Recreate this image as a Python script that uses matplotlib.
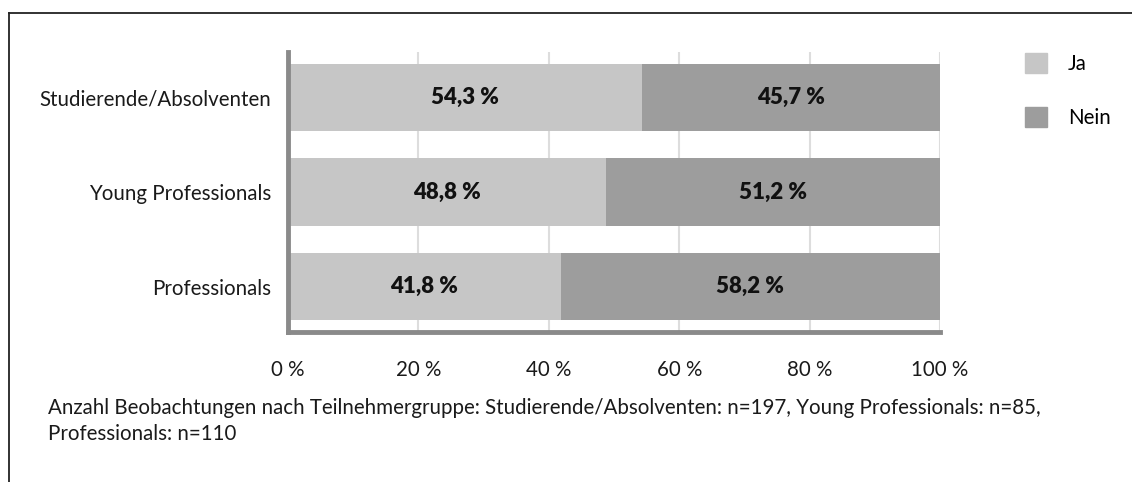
import numpy as np
import matplotlib.pyplot as plt
from matplotlib.lines import Line2D
from matplotlib.patches import Patch

groups = ['Studierende/Absolventen', 'Young Professionals', 'Professionals']
ja = [54.3, 48.8, 41.8]
nein = [45.7, 51.2, 58.2]
ticks = [0, 20, 40, 60, 80, 100]
note = ('Anzahl Beobachtungen nach Teilnehmergruppe: Studierende/Absolventen: n=197, '
        'Young Professionals: n=85,\nProfessionals: n=110')

plt.rcParams['font.family'] = ['Lato', 'DejaVu Sans']
fs = 14.8

fig = plt.figure(figsize=(11.32, 4.82), dpi=100)
ax = fig.add_axes([288/1132, 1-332/482, (940-288)/1132, 280/482])

y = np.arange(len(groups))[::-1]
ax.barh(y, ja, height=0.71, color='#c6c6c6', label='Ja', zorder=2)
ax.barh(y, nein, left=ja, height=0.71, color='#9d9d9d', label='Nein', zorder=2)

# Prozentwerte in die Balken
for yi, a, b in zip(y, ja, nein):
    ax.text(a/2, yi, ('%.1f %%' % a).replace('.', ','), ha='center', va='center',
            fontsize=16, fontweight='heavy', color='#111111', zorder=3)
    ax.text(a + b/2, yi, ('%.1f %%' % b).replace('.', ','), ha='center', va='center',
            fontsize=16, fontweight='heavy', color='#111111', zorder=3)

ax.set_xlim(0, 100)
ax.set_ylim(-0.48, 2.48)
ax.set_xticks(ticks)
ax.set_xticklabels(['%d %%' % t for t in ticks], fontsize=fs, color='#1a1a1a')
ax.set_yticks(y)
ax.set_yticklabels(groups, fontsize=fs, color='#1a1a1a')
ax.tick_params(length=0, pad=12)
ax.tick_params(axis='x', pad=20)
ax.grid(axis='x', color='#dddddd', lw=1.5, zorder=1)
for s in ['top', 'right']:
    ax.spines[s].set_visible(False)
for s in ['left', 'bottom']:
    ax.spines[s].set_color('#8a8a8a')
    ax.spines[s].set_linewidth(3.5)

ax.legend(handles=[Patch(color='#c6c6c6', label='Ja'), Patch(color='#9d9d9d', label='Nein')],
          loc='upper left', bbox_to_anchor=(1006/1132, 1-35/482), bbox_transform=fig.transFigure,
          frameon=False, fontsize=fs, handlelength=1.1, handleheight=1.1,
          labelspacing=1.6, handletextpad=1.0)

fig.text(48/1132, 1-398/482, note, fontsize=fs, color='#1a1a1a', va='top', linespacing=1.4)

fig.add_artist(Line2D([9/1132, 1], [1-13/482, 1-13/482], color='#222222', lw=1.3))
fig.add_artist(Line2D([9/1132, 9/1132], [0, 1-13/482], color='#222222', lw=1.3))

fig.savefig('out.png', dpi=100)
